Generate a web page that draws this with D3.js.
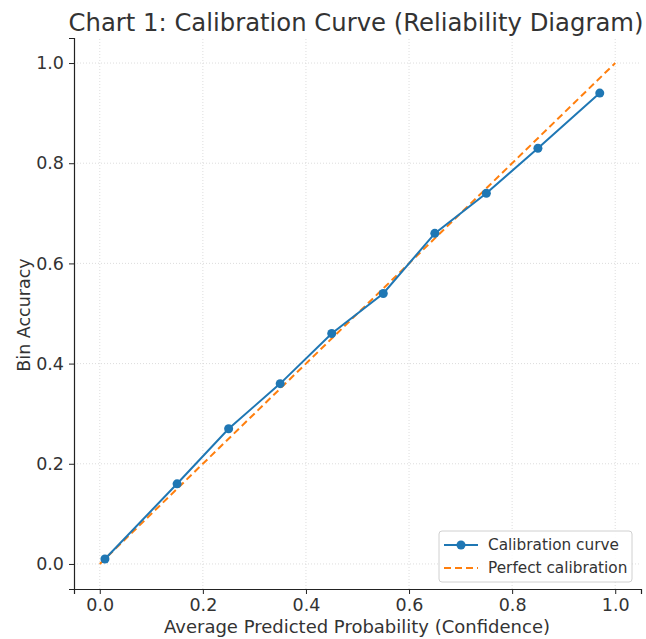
<!DOCTYPE html>
<html>
<head>
<meta charset="utf-8">
<script src="https://cdn.jsdelivr.net/npm/d3@7"></script>
<style>
  body { margin: 0; background: #fff; }
  svg text { font-family: "DejaVu Sans", sans-serif; fill: #333; }
</style>
</head>
<body>
<script>
// calibration bins
const confidence = [0.01, 0.15, 0.25, 0.35, 0.45, 0.55, 0.65, 0.75, 0.85, 0.97]
const accuracy   = [0.01, 0.16, 0.27, 0.36, 0.46, 0.54, 0.66, 0.74, 0.83, 0.94]
const perfect    = [0, 1]
const ticks      = [0, 0.2, 0.4, 0.6, 0.8, 1.0]
const seriesNames = ["Calibration curve", "Perfect calibration"]

const W = 646, H = 639
const BLUE = "#1f77b4", ORANGE = "#ff7f0e"

var svg = d3.select("body").append("svg")
    .attr("width", W)
    .attr("height", H)

var x = d3.scaleLinear().domain([-0.05, 1.05]).range([74, 641])
var y = d3.scaleLinear().domain([-0.05, 1.05]).range([589, 38])

// grid
var grid = svg.append("g")
grid.selectAll(".gx").data(ticks).enter().append("line")
    .attr("x1", d => x(d)).attr("x2", d => x(d))
    .attr("y1", y(-0.05)).attr("y2", y(1.05))
    .attr("stroke", "#d4d4d4").attr("stroke-width", 0.8)
    .attr("stroke-dasharray", "1,2")
grid.selectAll(".gy").data(ticks).enter().append("line")
    .attr("y1", d => y(d)).attr("y2", d => y(d))
    .attr("x1", x(-0.05)).attr("x2", x(1.05))
    .attr("stroke", "#d4d4d4").attr("stroke-width", 0.8)
    .attr("stroke-dasharray", "1,2")

// axes
var xAxis = svg.append("g")
    .attr("transform", "translate(0," + y(-0.05) + ")")
    .call(d3.axisBottom(x).tickValues(ticks).tickFormat(d3.format(".1f")).tickSizeOuter(0).tickSize(5).tickPadding(5))
var yAxis = svg.append("g")
    .attr("transform", "translate(" + x(-0.05) + ",0)")
    .call(d3.axisLeft(y).tickValues(ticks).tickFormat(d3.format(".1f")).tickSizeOuter(0).tickSize(5).tickPadding(5))

;[xAxis, yAxis].forEach(function(a) {
  a.select(".domain").attr("stroke", "#222").attr("stroke-width", 1.2)
  a.selectAll(".tick line").attr("stroke", "#222").attr("stroke-width", 1)
  a.selectAll(".tick text").attr("font-size", 17.5).attr("fill", "#333")
    .attr("font-family", "DejaVu Sans, sans-serif")
})

// perfect calibration line
var line = d3.line().x(d => x(d[0])).y(d => y(d[1]))
svg.append("path")
    .datum(perfect.map(v => [v, v]))
    .attr("d", line)
    .attr("fill", "none")
    .attr("stroke", ORANGE)
    .attr("stroke-width", 2)
    .attr("stroke-dasharray", "7,4")

// calibration curve
var pts = confidence.map((c, i) => [c, accuracy[i]])
svg.append("path")
    .datum(pts)
    .attr("d", line)
    .attr("fill", "none")
    .attr("stroke", BLUE)
    .attr("stroke-width", 2)
svg.selectAll(".pt").data(pts).enter().append("circle")
    .attr("cx", d => x(d[0]))
    .attr("cy", d => y(d[1]))
    .attr("r", 4.5)
    .attr("fill", BLUE)

// title and labels
svg.append("text")
    .attr("x", 356).attr("y", 31)
    .attr("text-anchor", "middle")
    .attr("font-size", 24.3)
    .text("Chart 1: Calibration Curve (Reliability Diagram)")
svg.append("text")
    .attr("x", 357).attr("y", 633)
    .attr("text-anchor", "middle")
    .attr("font-size", 18)
    .text("Average Predicted Probability (Confidence)")
svg.append("text")
    .attr("transform", "translate(30,315) rotate(-90)")
    .attr("text-anchor", "middle")
    .attr("font-size", 17.5)
    .text("Bin Accuracy")

// legend
var lg = svg.append("g").attr("transform", "translate(439,531)")
lg.append("rect")
    .attr("width", 193).attr("height", 51)
    .attr("rx", 3)
    .attr("fill", "#fff").attr("fill-opacity", 0.85)
    .attr("stroke", "#d0d0d0")
var items = lg.selectAll(".item").data(seriesNames).enter().append("g")
    .attr("transform", (d, i) => "translate(0," + (14 + i * 23) + ")")
items.append("line")
    .attr("x1", 5).attr("x2", 39)
    .attr("stroke", (d, i) => i == 0 ? BLUE : ORANGE)
    .attr("stroke-width", 2)
    .attr("stroke-dasharray", (d, i) => i == 0 ? null : "7,4")
items.filter((d, i) => i == 0).append("circle")
    .attr("cx", 22).attr("r", 4.5).attr("fill", BLUE)
items.append("text")
    .attr("x", 49).attr("dy", "0.35em")
    .attr("font-size", 15.3)
    .text(d => d)
</script>
</body>
</html>
